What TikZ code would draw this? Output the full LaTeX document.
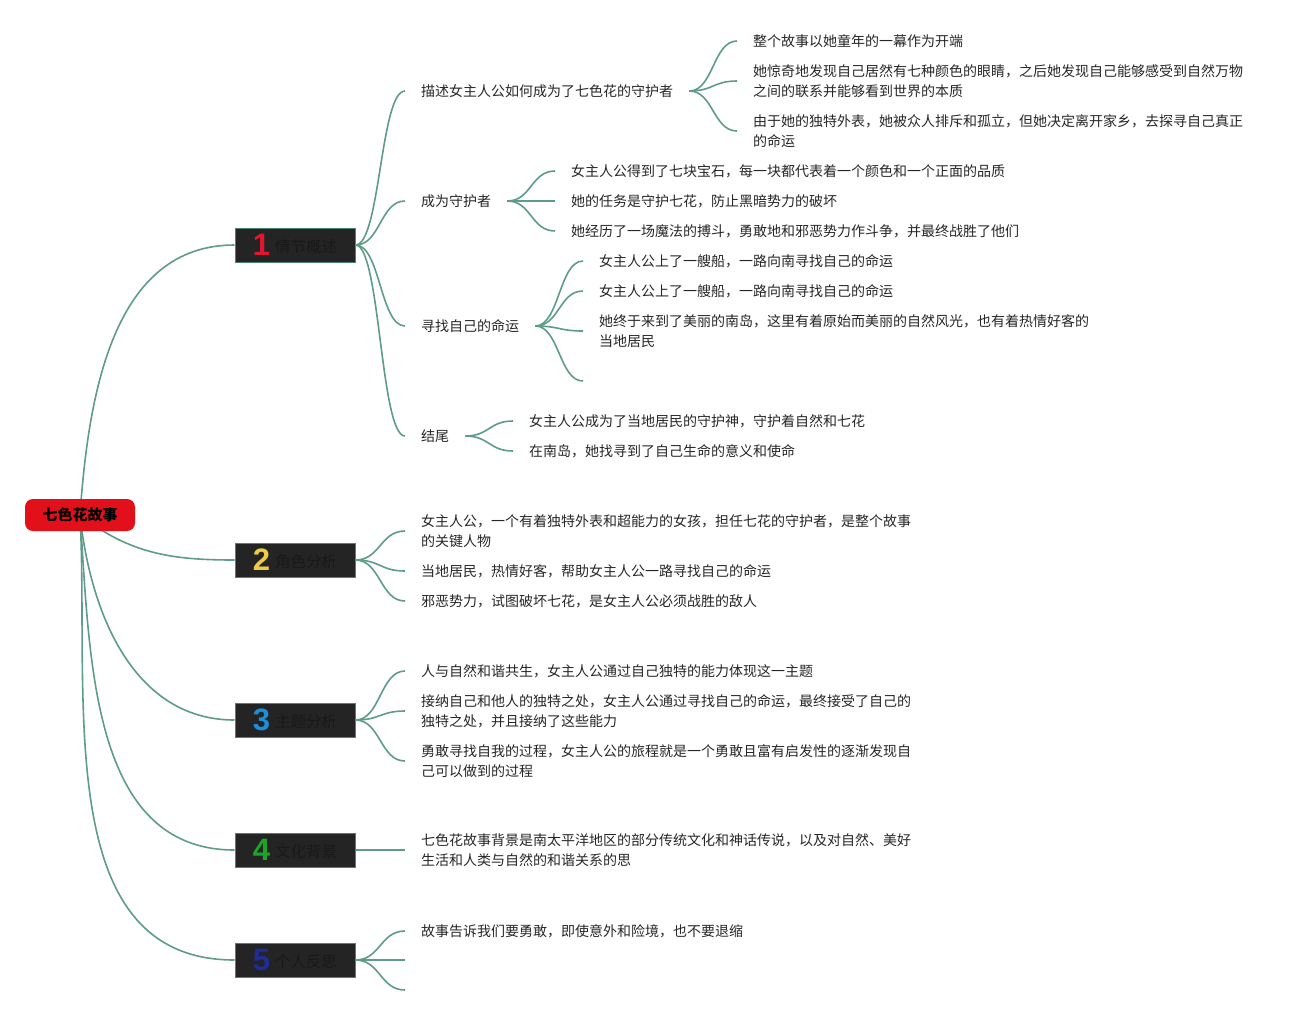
\documentclass[tikz,border=0pt]{standalone}
\usepackage{fontspec}
\setmainfont{Noto Sans CJK SC}
\newfontfamily\numfont{Liberation Sans}
\usetikzlibrary{calc,backgrounds}
\definecolor{linkgreen}{HTML}{5E9C87}
\definecolor{rootred}{HTML}{E2101A}
\definecolor{boxfill}{HTML}{242424}
\definecolor{boxline}{HTML}{4C8374}
\definecolor{leafgray}{HTML}{262626}
\definecolor{numred}{HTML}{E0182D}
\definecolor{numyellow}{HTML}{EDCB45}
\definecolor{numblue}{HTML}{1B8FDA}
\definecolor{numgreen}{HTML}{1CA52B}
\definecolor{numnavy}{HTML}{1F2C9C}
\newcommand{\topicnum}[2]{{\numfont\bfseries\fontsize{31}{31}\selectfont\color{#1}#2}\hspace{5pt}}
\newcommand{\topiclabel}[1]{\raisebox{3pt}{#1}}
\tikzset{
  link/.style={draw=linkgreen, line width=1.6pt},
  fan/.style={to path={let \p1=(\tikztostart), \p2=(\tikztotarget) in
      .. controls ({(\x1+\x2)/2},\y1) and ({(\x1+\x2)/2},\y2) .. (\x2,\y2)}},
  rootbox/.style={fill=rootred, rounded corners=8pt, minimum width=110pt, minimum height=32pt,
      inner sep=0pt, font=\fontsize{15}{18}\selectfont\bfseries, text=black},
  topicbox/.style={fill=boxfill, draw=boxline, line width=1pt, minimum width=120pt, minimum height=34pt,
      inner sep=0pt, font=\fontsize{15.5}{18}\selectfont, text=black!90},
  leaf/.style={anchor=west, inner xsep=16pt, inner ysep=0pt, align=left,
      font=\fontsize{14}{20}\selectfont, text=leafgray}
}
\begin{document}
\begin{tikzpicture}[x=1pt, y=-1pt]
    \useasboundingbox (0,0) rectangle (1313,1015);
    % root and topics
    \node[rootbox] (root) at (80,515) {七色花故事};
    \node[topicbox] (t1) at (295,245) {\topicnum{numred}{1}\topiclabel{情节概述}};
    \node[topicbox] (t2) at (295,560) {\topicnum{numyellow}{2}\topiclabel{角色分析}};
    \node[topicbox] (t3) at (295,720) {\topicnum{numblue}{3}\topiclabel{主题分析}};
    \node[topicbox] (t4) at (295,850) {\topicnum{numgreen}{4}\topiclabel{文化背景}};
    \node[topicbox] (t5) at (295,960) {\topicnum{numnavy}{5}\topiclabel{个人反思}};
    \begin{scope}[on background layer]
      \draw[link] (root.center) to[out=86,in=180] (t1.west);
      \draw[link] (root.center) to[out=-38,in=180] (t2.west);
      \draw[link] (root.center) to[out=-84,in=180] (t3.west);
      \draw[link] (root.center) to[out=-86,in=180] (t4.west);
      \draw[link] (root.center) to[out=-87,in=180] (t5.west);
    \end{scope}

    % 1 情节概述
    \node[leaf] (p1) at (405,91) {描述女主人公如何成为了七色花的守护者};
    \node[leaf] (p2) at (405,201) {成为守护者};
    \node[leaf] (p3) at (405,326) {寻找自己的命运};
    \node[leaf] (p4) at (405,436) {结尾};
    \foreach \leafname in {p1,p2,p3,p4}
      \draw[link] (t1.east) to[fan] (\leafname.west);

    \node[leaf] (p1a) at (737,41) {整个故事以她童年的一幕作为开端};
    \node[leaf] (p1b) at (737,81) {她惊奇地发现自己居然有七种颜色的眼睛，之后她发现自己能够感受到自然万物\\之间的联系并能够看到世界的本质};
    \node[leaf] (p1c) at (737,131) {由于她的独特外表，她被众人排斥和孤立，但她决定离开家乡，去探寻自己真正\\的命运};
    \foreach \leafname in {p1a,p1b,p1c}
      \draw[link] (p1.east) to[fan] (\leafname.west);

    \node[leaf] (p2a) at (555,171) {女主人公得到了七块宝石，每一块都代表着一个颜色和一个正面的品质};
    \node[leaf] (p2b) at (555,201) {她的任务是守护七花，防止黑暗势力的破坏};
    \node[leaf] (p2c) at (555,231) {她经历了一场魔法的搏斗，勇敢地和邪恶势力作斗争，并最终战胜了他们};
    \foreach \leafname in {p2a,p2b,p2c}
      \draw[link] (p2.east) to[fan] (\leafname.west);

    \node[leaf] (p3a) at (583,261) {女主人公上了一艘船，一路向南寻找自己的命运};
    \node[leaf] (p3b) at (583,291) {女主人公上了一艘船，一路向南寻找自己的命运};
    \node[leaf] (p3c) at (583,331) {她终于来到了美丽的南岛，这里有着原始而美丽的自然风光，也有着热情好客的\\当地居民};
    \coordinate (p3d) at (583,381);
    \foreach \leafname in {p3a,p3b,p3c}
      \draw[link] (p3.east) to[fan] (\leafname.west);
    \draw[link] (p3.east) to[fan] (p3d);

    \node[leaf] (p4a) at (513,421) {女主人公成为了当地居民的守护神，守护着自然和七花};
    \node[leaf] (p4b) at (513,451) {在南岛，她找寻到了自己生命的意义和使命};
    \foreach \leafname in {p4a,p4b}
      \draw[link] (p4.east) to[fan] (\leafname.west);

    % 2 角色分析
    \node[leaf] (r1) at (405,531) {女主人公，一个有着独特外表和超能力的女孩，担任七花的守护者，是整个故事\\的关键人物};
    \node[leaf] (r2) at (405,571) {当地居民，热情好客，帮助女主人公一路寻找自己的命运};
    \node[leaf] (r3) at (405,601) {邪恶势力，试图破坏七花，是女主人公必须战胜的敌人};
    \foreach \leafname in {r1,r2,r3}
      \draw[link] (t2.east) to[fan] (\leafname.west);

    % 3 主题分析
    \node[leaf] (m1) at (405,671) {人与自然和谐共生，女主人公通过自己独特的能力体现这一主题};
    \node[leaf] (m2) at (405,711) {接纳自己和他人的独特之处，女主人公通过寻找自己的命运，最终接受了自己的\\独特之处，并且接纳了这些能力};
    \node[leaf] (m3) at (405,761) {勇敢寻找自我的过程，女主人公的旅程就是一个勇敢且富有启发性的逐渐发现自\\己可以做到的过程};
    \foreach \leafname in {m1,m2,m3}
      \draw[link] (t3.east) to[fan] (\leafname.west);

    % 4 文化背景
    \node[leaf] (c1) at (405,850) {七色花故事背景是南太平洋地区的部分传统文化和神话传说，以及对自然、美好\\生活和人类与自然的和谐关系的思};
    \draw[link] (t4.east) to[fan] (c1.west);

    % 5 个人反思
    \node[leaf] (f1) at (405,931) {故事告诉我们要勇敢，即使意外和险境，也不要退缩};
    \coordinate (f2) at (405,960);
    \coordinate (f3) at (405,990);
    \draw[link] (t5.east) to[fan] (f1.west);
    \draw[link] (t5.east) to[fan] (f2);
    \draw[link] (t5.east) to[fan] (f3);
\end{tikzpicture}
\end{document}
